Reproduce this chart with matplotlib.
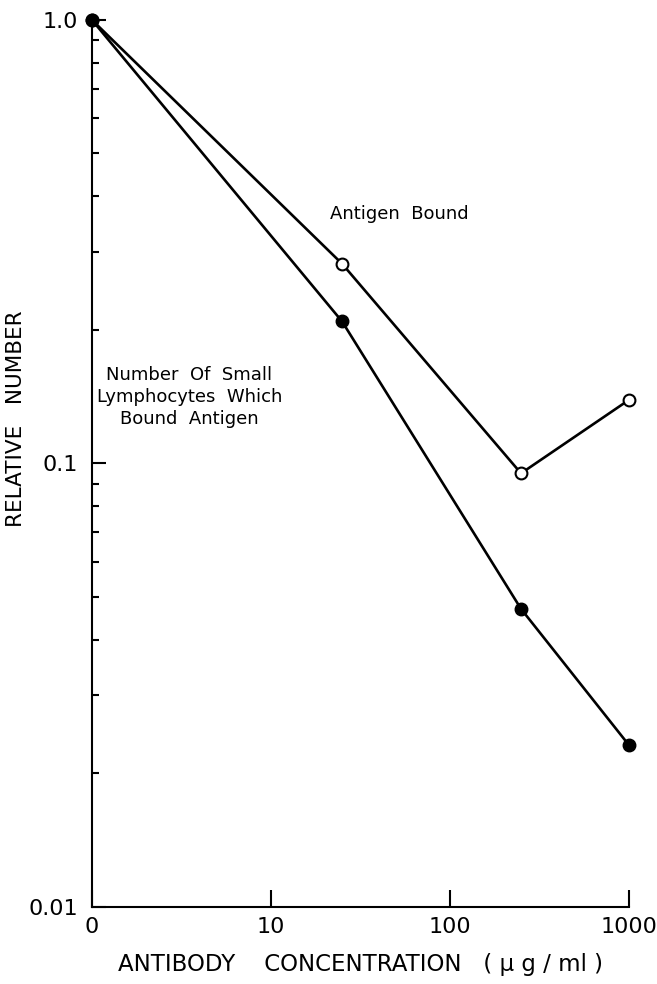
import matplotlib as mpl
mpl.use('Agg')
import matplotlib.pyplot as plt
from matplotlib.ticker import FixedLocator, NullFormatter, LogLocator
import numpy as np

# antibody concentration (ug/ml); the "0" point is drawn at 1 on the log axis
conc = [1, 25, 250, 1000]
xtick_pos = [1, 10, 100, 1000]
xtick_lab = ['0', '10', '100', '1000']

cells_bound = [1.0, 0.209, 0.047, 0.0232]   # filled circles
antigen_bound = [1.0, 0.282, 0.095, 0.139]  # open circles

ytick_pos = [0.01, 0.1, 1.0]
ytick_lab = ['0.01', '0.1', '1.0']

lw = 1.9
plt.rcParams['font.family'] = 'DejaVu Sans'

fig = plt.figure(figsize=(6.57, 9.84), dpi=100)
ax = fig.add_axes([0.140, 0.0783, 0.817, 0.9014])

ax.plot(conc, antigen_bound, color='black', lw=lw, marker='o', ms=8.5,
        mfc='white', mec='black', mew=1.5, clip_on=False, zorder=3)
ax.plot(conc, cells_bound, color='black', lw=lw, marker='o', ms=9,
        mfc='black', mec='black', clip_on=False, zorder=4)

ax.set_xscale('log')
ax.set_yscale('log')
ax.set_xlim(1, 1000)
ax.set_ylim(0.01, 1.0)

ax.spines['top'].set_visible(False)
ax.spines['right'].set_visible(False)
ax.spines['left'].set_linewidth(1.5)
ax.spines['bottom'].set_linewidth(1.5)

ax.xaxis.set_major_locator(FixedLocator(xtick_pos))
ax.set_xticklabels(xtick_lab)
ax.xaxis.set_minor_locator(FixedLocator([]))
ax.yaxis.set_major_locator(FixedLocator(ytick_pos))
ax.set_yticklabels(ytick_lab)
ax.yaxis.set_minor_locator(LogLocator(base=10, subs=np.arange(2, 10)))
ax.yaxis.set_minor_formatter(NullFormatter())

ax.tick_params(axis='x', which='major', direction='in', length=12, width=1.5,
               labelsize=16, pad=7)
ax.tick_params(axis='y', which='major', direction='in', length=10, width=1.5,
               labelsize=16, pad=10)
ax.tick_params(axis='y', which='minor', direction='in', length=5, width=1.5)

ax.set_xlabel('ANTIBODY    CONCENTRATION   ( \u03bc g / ml )', fontsize=16.5,
              labelpad=12)
ax.set_ylabel('RELATIVE   NUMBER', fontsize=15.5)
ax.yaxis.set_label_coords(-0.122, 0.55)

ax.text(52, 0.365, 'Antigen  Bound', fontsize=13, ha='center', va='center')
ax.text(3.5, 0.141, 'Number  Of  Small\nLymphocytes  Which\nBound  Antigen',
        fontsize=13, ha='center', va='center', linespacing=1.3)

plt.savefig('out.png', dpi=100)
